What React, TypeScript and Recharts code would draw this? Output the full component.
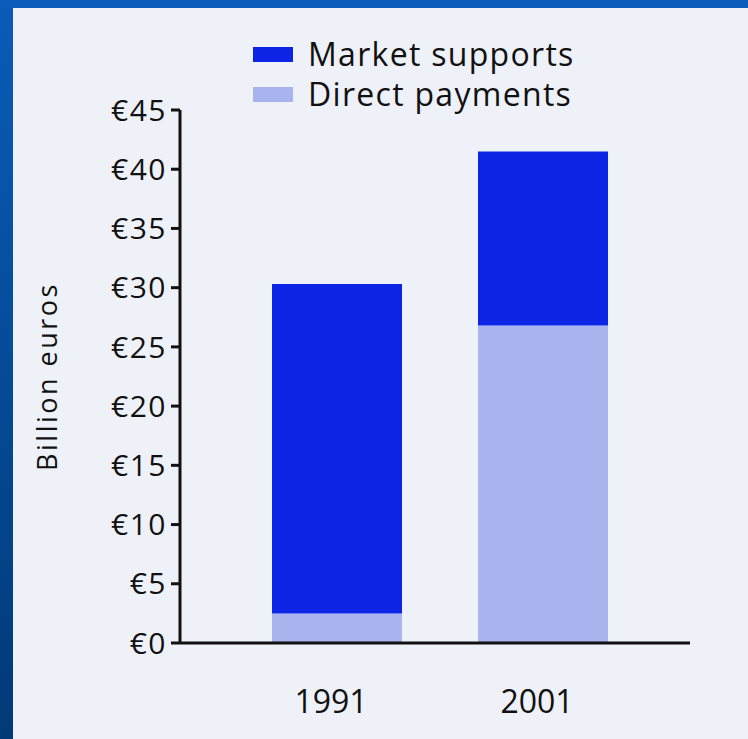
import React from 'react';
import { BarChart, Bar, XAxis, YAxis, Legend } from 'recharts';

const years = ['1991', '2001'];
const directPayments = [2.5, 26.8];
const marketSupports = [27.8, 14.7];
const yTicks = [0, 5, 10, 15, 20, 25, 30, 35, 40, 45];

const data = years.map((y, i) => ({
  year: y,
  direct: directPayments[i],
  market: marketSupports[i],
}));

const FONT = '"Open Sans", "DejaVu Sans", sans-serif';
const DARK = '#0c24e6';
const LIGHT = '#a9b3ee';

const legendItems = [
  { label: 'Market supports', color: DARK },
  { label: 'Direct payments', color: LIGHT },
];

const renderLegend = () => (
  <div style={{ fontFamily: FONT, fontSize: 32, color: '#111', lineHeight: '40px', letterSpacing: 1.3 }}>
    {legendItems.map((it) => (
      <div key={it.label} style={{ display: 'flex', alignItems: 'center', height: 40 }}>
        <span style={{ display: 'inline-block', width: 40, height: 15, background: it.color, marginRight: 15 }} />
        <span>{it.label}</span>
      </div>
    ))}
  </div>
);

const XTick = (props: any) => {
  const { x, y, payload } = props;
  return (
    <text x={x - 6} y={y} dy={62} textAnchor="middle" fontFamily={FONT} fontSize={32} fill="#111">
      {payload.value}
    </text>
  );
};

export default function App() {
  return (
    <div style={{ position: 'absolute', left: 0, top: 0, width: 748, height: 739, background: 'linear-gradient(180deg, #0a5cb8 0%, #003a78 100%)' }}>
      <div style={{ position: 'absolute', left: 13, top: 8, width: 735, height: 731, background: '#eff1f8' }}>
        <BarChart
          width={735}
          height={731}
          data={data}
          margin={{ top: 102, right: 58, bottom: 0, left: 0 }}
          barSize={130}
        >
          <Legend
            layout="horizontal"
            verticalAlign="middle"
            align="center"
            content={renderLegend}
            wrapperStyle={{ position: 'absolute', left: 240, top: 26, width: 420 }}
          />
          <XAxis
            dataKey="year"
            height={96}
            padding={{ left: 54, right: 44 }}
            tickLine={false}
            axisLine={{ stroke: '#111', strokeWidth: 3 }}
            tick={<XTick />}
          />
          <YAxis
            width={167}
            domain={[0, 45]}
            ticks={yTicks}
            interval={0}
            tickFormatter={(v: number) => `€${v}`}
            tick={{ fontFamily: FONT, fontSize: 30, fill: '#111', letterSpacing: 1.5 }}
            tickLine={{ stroke: '#111', strokeWidth: 3 }}
            tickSize={9}
            tickMargin={4}
            axisLine={{ stroke: '#111', strokeWidth: 3 }}
            label={{
              value: 'Billion euros',
              angle: -90,
              position: 'insideLeft',
              offset: 34,
              style: { fontFamily: FONT, fontSize: 27, fill: '#111', textAnchor: 'middle', letterSpacing: 2.5 },
            }}
          />
          <Bar dataKey="direct" stackId="a" fill={LIGHT} isAnimationActive={false} />
          <Bar dataKey="market" stackId="a" fill={DARK} isAnimationActive={false} />
        </BarChart>
      </div>
    </div>
  );
}
